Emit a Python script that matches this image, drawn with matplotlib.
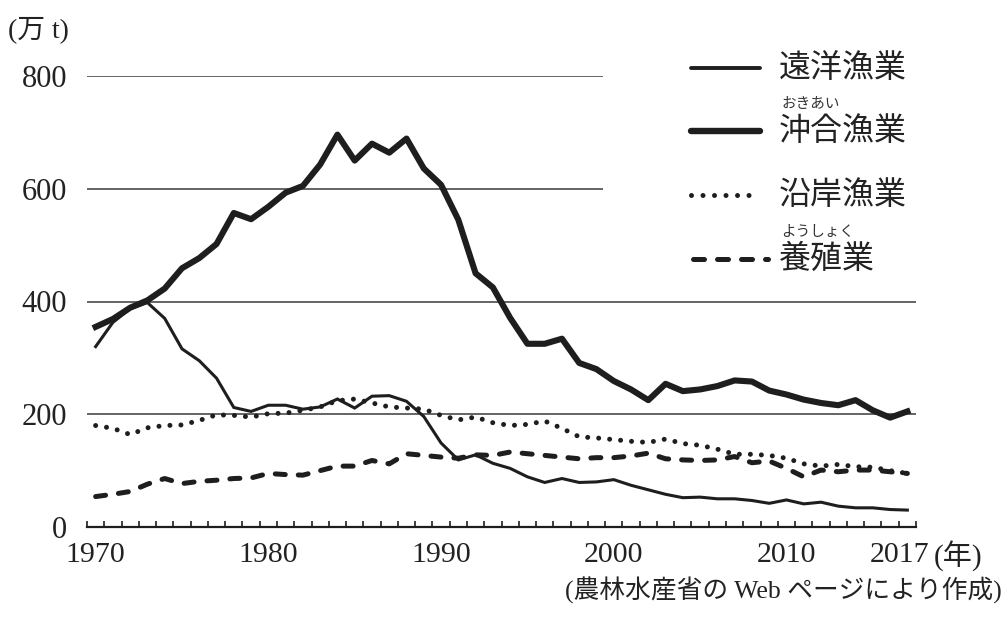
import numpy as np
import matplotlib
matplotlib.use("Agg")
import matplotlib.pyplot as plt
import matplotlib.transforms as mtransforms
from matplotlib.lines import Line2D

years = list(range(1970, 2018))

distant = [320, 363, 387, 398, 370, 316, 295, 264, 212, 205,
           216, 216, 209, 213, 227, 211, 232, 233, 223, 196,
           149, 119, 128, 113, 104, 89, 79, 86, 79, 80,
           84, 74, 66, 58, 52, 53, 50, 50, 47, 42,
           48, 41, 44, 37, 34, 34, 31, 30]

offshore = [355, 369, 389, 402, 423, 459, 477, 502, 557, 546,
            568, 593, 605, 643, 696, 650, 680, 664, 689, 636,
            607, 545, 450, 425, 371, 325, 325, 334, 291, 280,
            259, 244, 225, 254, 241, 244, 250, 260, 258, 242,
            235, 226, 220, 216, 225, 207, 194, 205]

coastal = [180, 175, 164, 176, 180, 181, 189, 199, 198, 195,
           201, 202, 207, 213, 224, 227, 220, 213, 211, 209,
           198, 190, 195, 185, 180, 182, 188, 175, 160, 158,
           155, 152, 150, 156, 148, 145, 138, 129, 129, 127,
           122, 112, 108, 111, 107, 106, 100, 95]

aquaculture = [54, 58, 63, 76, 86, 77, 81, 83, 86, 87,
               95, 93, 92, 100, 108, 108, 118, 112, 130, 127,
               124, 122, 128, 127, 133, 130, 127, 124, 121, 123,
               123, 126, 131, 121, 119, 118, 119, 125, 114, 117,
               104, 89, 101, 98, 101, 101, 98, 95]

yticks = [0, 200, 400, 600, 800]
xlabels = [1970, 1980, 1990, 2000, 2010, 2017]

W, H = 1005, 618
fig = plt.figure(figsize=(W / 100, H / 100), dpi=100)

def fx(x):
    return x / W

def fy(y):
    return 1 - y / H

ax = fig.add_axes([fx(87), fy(527), fx(916) - fx(87), (527 - 76) / H])
ax.set_xlim(1969.5, 2017.5)
ax.set_ylim(0, 800)

ink = "#1e1e1e"
txt = "#222222"
num_font = "Liberation Serif"
jp = ["Noto Sans CJK JP", "DejaVu Sans"]
mix = ["Liberation Serif", "Noto Sans CJK JP"]

# gridlines
ax.hlines([800, 600], 1969.5, 1999.4, color="#3a3a3a", lw=1.1, zorder=1)
ax.hlines([400, 200], 1969.5, 2017.5, color="#3a3a3a", lw=1.1, zorder=1)

lw_dot = 3.6
lw_dash = 3.6
ax.plot(years, distant, color=ink, lw=2.2, solid_joinstyle="miter", zorder=3)
ax.plot(years, offshore, color=ink, lw=4.4, solid_joinstyle="round", zorder=4)
ax.plot(years, coastal, color=ink, lw=lw_dot, linestyle=(0, (0.001, 2.2)),
        dash_capstyle="round", zorder=3)
ax.plot(years, aquaculture, color=ink, lw=lw_dash, linestyle=(0, (2.0, 2.6)),
        dash_capstyle="round", zorder=3)

for s in ["top", "right", "left"]:
    ax.spines[s].set_visible(False)
ax.spines["bottom"].set_linewidth(1.6)
ax.spines["bottom"].set_color(ink)

ax.set_yticks(yticks)
ax.set_yticklabels([str(v) for v in yticks], fontfamily=num_font, fontsize=22, color=txt)
ax.tick_params(axis="y", length=0, pad=14.4)

ax.set_xticks(xlabels)
ax.set_xticklabels([str(v) for v in xlabels], fontfamily=num_font, fontsize=21.5, color=txt)
ax.set_xticks(np.arange(1969.5, 2018, 1), minor=True)
ax.tick_params(axis="x", which="major", length=0, pad=11)
ax.tick_params(axis="x", which="minor", direction="in", length=4.5, width=1.2, color=ink)

# shift the last label slightly left, as in the reference
last = ax.get_xticklabels()[-1]
last.set_transform(last.get_transform() +
                   mtransforms.ScaledTranslation(-8 / 100, 0, fig.dpi_scale_trans))

# unit labels
fig.text(fx(8), fy(30), "(万 t)", fontfamily=mix, fontsize=20, color=txt,
         ha="left", va="center")
fig.text(fx(934), fy(556), "(年)", fontfamily=mix, fontsize=21, color=txt,
         ha="left", va="center")

# source
fig.text(fx(1002), fy(590), "(農林水産省の Web ページにより作成)", fontfamily=mix,
         fontsize=18.5, color=txt, ha="right", va="center")

# legend
leg_rows = [
    ("遠洋漁業", 68, dict(lw=2.8), None, (691, 760)),
    ("沖合漁業", 131, dict(lw=4.6), "おきあい", (691, 760)),
    ("沿岸漁業", 195, dict(lw=lw_dot, linestyle=(0, (0.001, 2.3)), dash_capstyle="round"),
     None, (691, 752)),
    ("養殖業", 259, dict(lw=lw_dash, linestyle=(0, (2.2, 2.6)), dash_capstyle="round"),
     "ようしょく", (693, 768)),
]
for label, yy, style, ruby, (x0, x1) in leg_rows:
    fig.add_artist(Line2D([fx(x0), fx(x1)], [fy(yy), fy(yy)], transform=fig.transFigure,
                          color=ink, solid_capstyle="round", **style))
    fig.text(fx(779), fy(yy), label, fontfamily=jp, fontsize=23, color=txt,
             ha="left", va="center")
    if ruby:
        fig.text(fx(781), fy(yy - 27), ruby, fontfamily=jp, fontsize=10.5, color="#333333",
                 ha="left", va="center")

fig.savefig("out.png", dpi=100)
